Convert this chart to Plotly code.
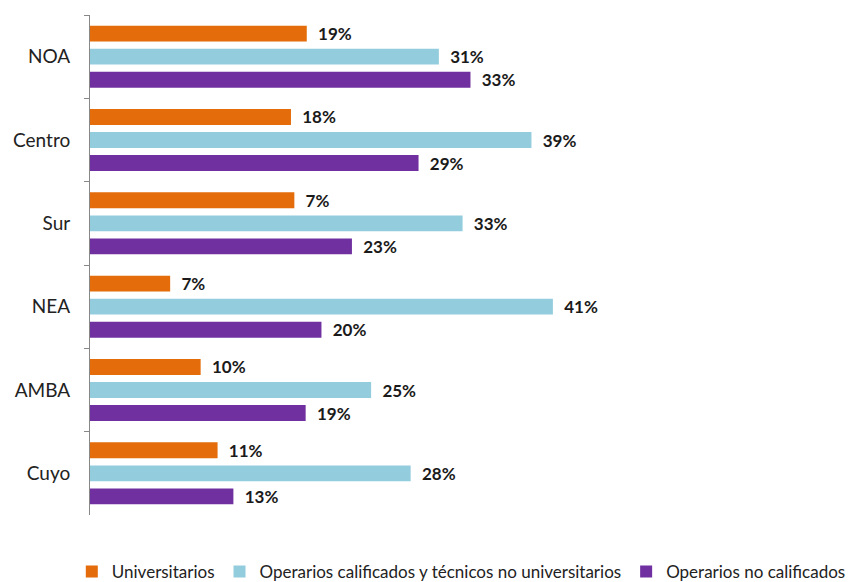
import plotly.graph_objects as go

regions = ["NOA", "Centro", "Sur", "NEA", "AMBA", "Cuyo"]
series_names = [
    "Universitarios",
    "Operarios calificados y técnicos no universitarios",
    "Operarios no calificados",
]
colors = ["#E46C0A", "#93CDDD", "#7030A0"]

# bar lengths as drawn (percent)
univ = [19.2, 17.8, 18.1, 7.1, 9.8, 11.3]
calif = [30.9, 39.1, 33.0, 41.0, 24.9, 28.4]
nocalif = [33.7, 29.1, 23.2, 20.5, 19.1, 12.7]

# labels as printed
univ_lbl = ["19%", "18%", "7%", "7%", "10%", "11%"]
calif_lbl = ["31%", "39%", "33%", "41%", "25%", "28%"]
nocalif_lbl = ["33%", "29%", "23%", "20%", "19%", "13%"]

values = [univ, calif, nocalif]
labels = [univ_lbl, calif_lbl, nocalif_lbl]

fig = go.Figure()
for name, vals, lbls, col in zip(series_names, values, labels, colors):
    fig.add_trace(go.Bar(
        y=regions, x=vals, orientation="h", name=name,
        marker=dict(color=col, line=dict(width=0)),
        text=lbls, texttemplate="  %{text}", textposition="outside",
        constraintext="none",
        textfont=dict(family="Lato", size=17, color="#1a1a1a", weight="bold"),
        cliponaxis=False,
    ))

fig.update_layout(
    width=856, height=582,
    margin=dict(l=90, r=66, t=15, b=67, autoexpand=False),
    paper_bgcolor="white", plot_bgcolor="white",
    barmode="group", bargap=0.17, bargroupgap=0.31,
    font=dict(family="Lato", size=18, color="#222222"),
    showlegend=True,
    legend=dict(orientation="h", x=-0.026, xanchor="left", xref="paper",
                y=-0.078, yanchor="top", yref="paper",
                font=dict(family="Lato", size=17, color="#222222"),
                traceorder="normal", itemclick=False),
    xaxis=dict(range=[0, 62.0], visible=False, showgrid=False, zeroline=False),
    yaxis=dict(autorange="reversed", type="category", showline=True,
               linecolor="#888888", linewidth=1, ticks="outside",
               tickson="boundaries", ticklen=5, tickcolor="#888888",
               showgrid=False, ticklabelstandoff=15, automargin=False,
               tickfont=dict(family="Lato", size=19, color="#222222")),
)

fig.write_html("out.html", config={"displayModeBar": False},
               post_script="document.body.style.margin='0';")
